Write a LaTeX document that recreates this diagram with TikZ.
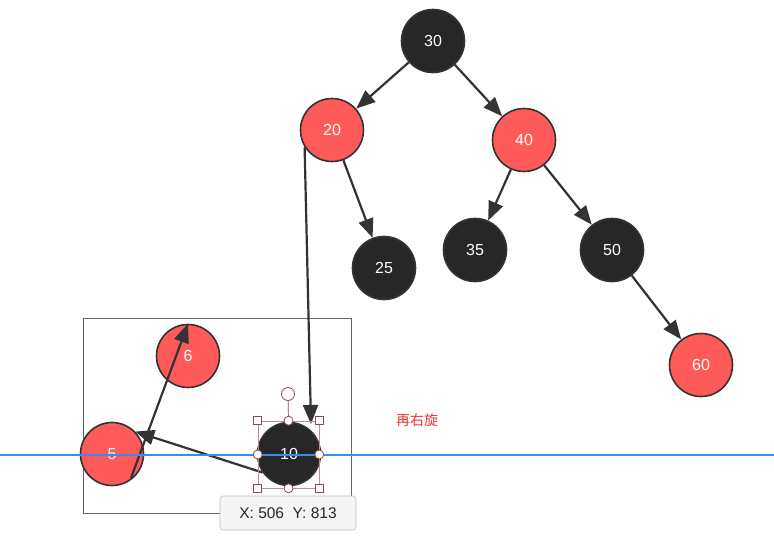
\documentclass[tikz,border=0pt]{standalone}
\usepackage{fontspec}
\setmainfont{Liberation Sans}
\newfontfamily\cjk{Noto Sans CJK SC}
\usetikzlibrary{arrows.meta,calc}
\definecolor{nred}{HTML}{FF5A5A}
\definecolor{nblack}{HTML}{272727}
\definecolor{nedge}{HTML}{333333}
\definecolor{selc}{HTML}{8A4A55}
\definecolor{guideblue}{HTML}{3D8BEB}
\definecolor{lblred}{HTML}{EB3232}
\begin{document}
\begin{tikzpicture}[x=1pt,y=-1pt,
  rb/.style={circle,draw=nedge,line width=1.6pt,minimum size=63pt,inner sep=0pt,text=white,font=\fontsize{16}{16}\selectfont},
  rnode/.style={rb,fill=nred},
  bnode/.style={rb,fill=nblack},
  arr/.style={draw=nedge,line width=2.2pt,-{Triangle[length=19pt,width=15pt]}},
  hsq/.style={draw=selc,fill=white,line width=0.8pt,minimum size=8pt,inner sep=0pt},
  hci/.style={circle,draw=selc,fill=white,line width=0.8pt,minimum size=9pt,inner sep=0pt}]
\useasboundingbox (0,0) rectangle (774,542);
\fill[white] (0,0) rectangle (774,542);
% frame
\node[draw=gray!80!black,line width=0.6pt,minimum width=268pt,minimum height=195pt,inner sep=0pt] (frame) at (217,415.5) {};
% nodes
\node[bnode] (n30) at (433,41) {30};
\node[rnode] (n20) at (332,130) {20};
\node[rnode] (n40) at (524,140) {40};
\node[bnode] (n25) at (384,268) {25};
\node[bnode] (n35) at (475,250) {35};
\node[bnode] (n50) at (612,250) {50};
\node[rnode] (n60) at (701,365) {60};
\node[rnode] (n6) at (188,356) {6};
\node[rnode] (n5) at (112,454) {5};
\node[bnode] (n10) at (289,454) {10};
% edges
\draw[arr] (n30) -- (n20);
\draw[arr] (n30) -- (n40);
\draw[arr] (n20) -- (n25);
\draw[arr] (n40) -- (n35);
\draw[arr] (n40) -- (n50);
\draw[arr] (n50) -- (n60);
\coordinate (e10) at ($(n10.center)+(22,-30)$);
\draw[arr] (n20.212) -- (e10);
\draw[arr] (n10.215) -- (n5.44);
\coordinate (s56) at (131,478);
\draw[arr] (s56) -- (n6.north);
% blue guide line
\coordinate (gl) at (0,455);
\coordinate (gr) at (774,455);
\draw[draw=guideblue,line width=1.4pt] (gl) -- (gr);
% selection
\node[draw=selc!60,line width=0.6pt,minimum width=61pt,minimum height=67pt,inner sep=0pt] (sel) at (288.5,454.5) {};
\node[hci,minimum size=13pt] (rot) at (288,394) {};
\draw[selc,line width=0.7pt] (rot) -- (sel.north);
\node[hsq] (h1) at (sel.north west) {};
\node[hsq] (h2) at (sel.north east) {};
\node[hsq] (h3) at (sel.south west) {};
\node[hsq] (h4) at (sel.south east) {};
\node[hci] (h5) at (sel.north) {};
\node[hci] (h6) at (sel.south) {};
\node[hci] (h7) at (sel.west) {};
\node[hci] (h8) at (sel.east) {};
% tooltip
\node[draw=gray!50,fill=gray!8,rounded corners=3pt,line width=0.6pt,minimum width=136pt,minimum height=34pt,inner sep=0pt,text=gray!30!black,font=\fontsize{15.5}{16}\selectfont] (tip) at (288,513) {X: 506\ \ Y: 813};
% label
\node[text=lblred,font=\cjk\fontsize{14}{14}\selectfont] (lbl) at (417,420) {再右旋};
\end{tikzpicture}
\end{document}
